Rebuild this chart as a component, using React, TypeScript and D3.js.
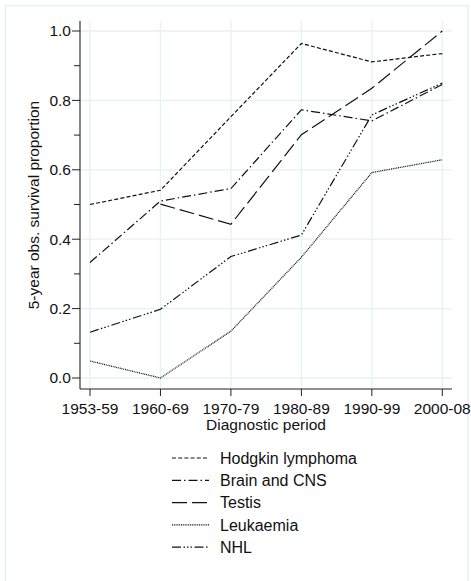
import React, { useEffect, useRef } from 'react';
import * as d3 from 'd3';

// diagnostic periods on the x axis
const periods = ['1953-59', '1960-69', '1970-79', '1980-89', '1990-99', '2000-08'];

// 5-year observed survival proportions (null = no data)
const hodgkin = [0.5, 0.541, 0.753, 0.964, 0.911, 0.935];
const brainCns = [0.333, 0.51, 0.546, 0.773, 0.741, 0.846];
const testis = [null, 0.501, 0.443, 0.701, 0.835, 1.0];
const leukaemia = [0.049, 0.0, 0.135, 0.348, 0.592, 0.629];
const nhl = [0.132, 0.198, 0.35, 0.412, 0.758, 0.85];

const seriesNames = ['Hodgkin lymphoma', 'Brain and CNS', 'Testis', 'Leukaemia', 'NHL'];
const yTicks = [0, 0.2, 0.4, 0.6, 0.8, 1.0];
const yMinorTicks = [0.1, 0.3, 0.5, 0.7, 0.9];

const App = () => {
    const ref = useRef<SVGSVGElement>(null);

    useEffect(() => {
        const width = 471;
        const height = 581;
        const font = '"Liberation Sans", Arial, sans-serif';
        const gridColor = '#e8f0f2';

        const series = [
            { name: seriesNames[0], values: hodgkin, dash: '4,2.2' },
            { name: seriesNames[1], values: brainCns, dash: '9,3,1.5,3' },
            { name: seriesNames[2], values: testis, dash: '15,5' },
            { name: seriesNames[3], values: leukaemia, dash: '1,0.8' },
            { name: seriesNames[4], values: nhl, dash: '9,2.5,1.5,2,1.5,2,1.5,2.5' },
        ];

        const svg = d3.select(ref.current);
        svg.selectAll('*').remove();

        svg.append('rect')
            .attr('width', width).attr('height', height).attr('fill', 'white');

        // outer graph frame
        svg.append('rect')
            .attr('x', 5.5).attr('y', 5.5)
            .attr('width', 462.5).attr('height', 600)
            .attr('fill', 'none')
            .attr('stroke', gridColor)
            .attr('stroke-width', 1.5);

        const plotLeft = 80, plotRight = 452, plotTop = 21, plotBottom = 389;

        const x = d3.scalePoint<string>()
            .domain(periods)
            .range([90, 442.3]);

        const y = d3.scaleLinear()
            .domain([0, 1])
            .range([378, 31]);

        // grid
        svg.append('g')
            .selectAll('line')
            .data(yTicks)
            .join('line')
            .attr('x1', plotLeft).attr('x2', plotRight)
            .attr('y1', d => y(d)).attr('y2', d => y(d))
            .attr('stroke', gridColor).attr('stroke-width', 1.3);

        svg.append('g')
            .selectAll('line')
            .data(periods)
            .join('line')
            .attr('x1', d => x(d)!).attr('x2', d => x(d)!)
            .attr('y1', plotTop).attr('y2', plotBottom)
            .attr('stroke', gridColor).attr('stroke-width', 1.3);

        // y axis
        const yAxis = svg.append('g').attr('transform', `translate(${plotLeft},0)`);
        yAxis.append('line')
            .attr('x1', 0).attr('x2', 0)
            .attr('y1', plotTop).attr('y2', plotBottom)
            .attr('stroke', '#222').attr('stroke-width', 1.1);
        yAxis.selectAll('line.major')
            .data(yTicks)
            .join('line')
            .attr('class', 'major')
            .attr('x1', -8).attr('x2', 0)
            .attr('y1', d => y(d)).attr('y2', d => y(d))
            .attr('stroke', '#222').attr('stroke-width', 1);
        yAxis.selectAll('line.minor')
            .data(yMinorTicks)
            .join('line')
            .attr('class', 'minor')
            .attr('x1', -6).attr('x2', 0)
            .attr('y1', d => y(d)).attr('y2', d => y(d))
            .attr('stroke', '#222').attr('stroke-width', 1);
        yAxis.selectAll('text')
            .data(yTicks)
            .join('text')
            .attr('x', -9)
            .attr('y', d => y(d))
            .attr('dy', '0.35em')
            .attr('text-anchor', 'end')
            .style('font-family', font)
            .style('font-size', '15.5px')
            .attr('fill', '#111')
            .text(d => d3.format('.1f')(d));

        svg.append('text')
            .attr('transform', `translate(39,${(plotTop + plotBottom) / 2}) rotate(-90)`)
            .attr('text-anchor', 'middle')
            .style('font-family', font)
            .style('font-size', '15.5px')
            .attr('fill', '#111')
            .text('5-year obs. survival proportion');

        // x axis
        const xAxis = svg.append('g').attr('transform', `translate(0,${plotBottom})`);
        xAxis.append('line')
            .attr('x1', plotLeft).attr('x2', plotRight)
            .attr('y1', 0).attr('y2', 0)
            .attr('stroke', '#222').attr('stroke-width', 1.1);
        xAxis.selectAll('line.tick')
            .data(periods)
            .join('line')
            .attr('class', 'tick')
            .attr('x1', d => x(d)!).attr('x2', d => x(d)!)
            .attr('y1', 0).attr('y2', 7)
            .attr('stroke', '#222').attr('stroke-width', 1);
        xAxis.selectAll('text')
            .data(periods)
            .join('text')
            .attr('x', d => x(d)!)
            .attr('y', 24.5)
            .attr('text-anchor', 'middle')
            .style('font-family', font)
            .style('font-size', '15.5px')
            .attr('fill', '#111')
            .text(d => d);

        svg.append('text')
            .attr('x', (plotLeft + plotRight) / 2)
            .attr('y', 429.5)
            .attr('text-anchor', 'middle')
            .style('font-family', font)
            .style('font-size', '15.5px')
            .attr('fill', '#111')
            .text('Diagnostic period');

        // lines
        const line = d3.line<number | null>()
            .defined(d => d !== null)
            .x((d, i) => x(periods[i])!)
            .y(d => y(d as number));

        svg.append('g')
            .selectAll('path')
            .data(series)
            .join('path')
            .attr('d', d => line(d.values))
            .attr('fill', 'none')
            .attr('stroke', '#111')
            .attr('stroke-width', 1.2)
            .attr('stroke-dasharray', d => d.dash);

        // legend
        const legend = svg.append('g')
            .selectAll('g')
            .data(series)
            .join('g')
            .attr('transform', (d, i) => `translate(0,${458 + i * 22.3})`);
        legend.append('line')
            .attr('x1', 172).attr('x2', 209)
            .attr('y1', 0).attr('y2', 0)
            .attr('stroke', '#111')
            .attr('stroke-width', 1.2)
            .attr('stroke-dasharray', d => d.dash);
        legend.append('text')
            .attr('x', 220)
            .attr('y', 0)
            .attr('dy', '0.35em')
            .style('font-family', font)
            .style('font-size', '16px')
            .attr('fill', '#111')
            .text(d => d.name);
    }, []);

    return (
        <svg
            ref={ref}
            width={471}
            height={581}
            style={{ position: 'absolute', left: 0, top: 0 }}
        />
    );
};

export default App;
